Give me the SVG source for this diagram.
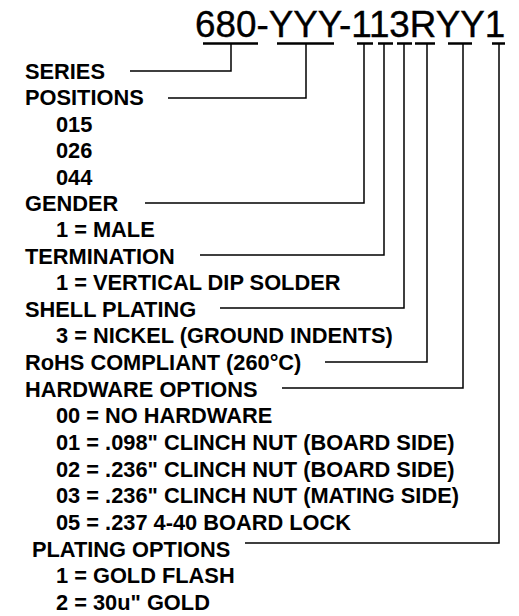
<svg xmlns="http://www.w3.org/2000/svg" width="519" height="616" viewBox="0 0 519 616">
<style>
.t{font-family:"Liberation Sans",Arial,sans-serif;font-weight:bold;font-size:21.8px;fill:#000}
.title{font-family:"Liberation Sans",Arial,sans-serif;font-size:36.8px;fill:#000;stroke:#000;stroke-width:0.4}
.ul{stroke:#000;stroke-width:2.6;fill:none}
.c{stroke:#000;stroke-width:1.5;fill:none}
</style>
<rect width="519" height="616" fill="#fff"/>
<g id="part-number">
<text class="title" x="195" y="37">680-YYY-113RYY1</text>
<path class="ul" d="M203 43.5H258M277 43.5H334M357 43.5H373M378 43.5H393M397 43.5H412M415 43.5H435M448 43.5H472M492 43.5H505"/>
</g>
<g id="connectors">
<path class="c" d="M231 43V71H130"/>
<path class="c" d="M306 43V98H168"/>
<path class="c" d="M364 43V203H145"/>
<path class="c" d="M384 43V255H200"/>
<path class="c" d="M404 43V308H220"/>
<path class="c" d="M427 43V362H325"/>
<path class="c" d="M463 43V388H282"/>
<path class="c" d="M499 43V543H245"/>
</g>
<g id="series"><text class="t" x="25" y="78.5">SERIES</text></g>
<g id="positions">
<text class="t" x="25" y="105">POSITIONS</text>
<text class="t" x="56" y="131.7">015</text>
<text class="t" x="56" y="158.3">026</text>
<text class="t" x="56" y="184.9">044</text>
</g>
<g id="gender">
<text class="t" x="25" y="210.5">GENDER</text>
<text class="t" x="56" y="237">1 = MALE</text>
</g>
<g id="termination">
<text class="t" x="25" y="263.5">TERMINATION</text>
<text class="t" x="56" y="290">1 = VERTICAL DIP SOLDER</text>
</g>
<g id="shell-plating">
<text class="t" x="25" y="316.7">SHELL PLATING</text>
<text class="t" x="56" y="343.3">3 = NICKEL (GROUND INDENTS)</text>
</g>
<g id="rohs"><text class="t" x="25" y="370">RoHS COMPLIANT (260°C)</text></g>
<g id="hardware-options">
<text class="t" x="25" y="396.7">HARDWARE OPTIONS</text>
<text class="t" x="56" y="423.3">00 = NO HARDWARE</text>
<text class="t" x="56" y="450">01 = .098" CLINCH NUT (BOARD SIDE)</text>
<text class="t" x="56" y="476.7">02 = .236" CLINCH NUT (BOARD SIDE)</text>
<text class="t" x="56" y="503.3">03 = .236" CLINCH NUT (MATING SIDE)</text>
<text class="t" x="56" y="530">05 = .237 4-40 BOARD LOCK</text>
</g>
<g id="plating-options">
<text class="t" x="32" y="556.7">PLATING OPTIONS</text>
<text class="t" x="56" y="583.3">1 = GOLD FLASH</text>
<text class="t" x="56" y="610">2 = 30u" GOLD</text>
</g>
</svg>
